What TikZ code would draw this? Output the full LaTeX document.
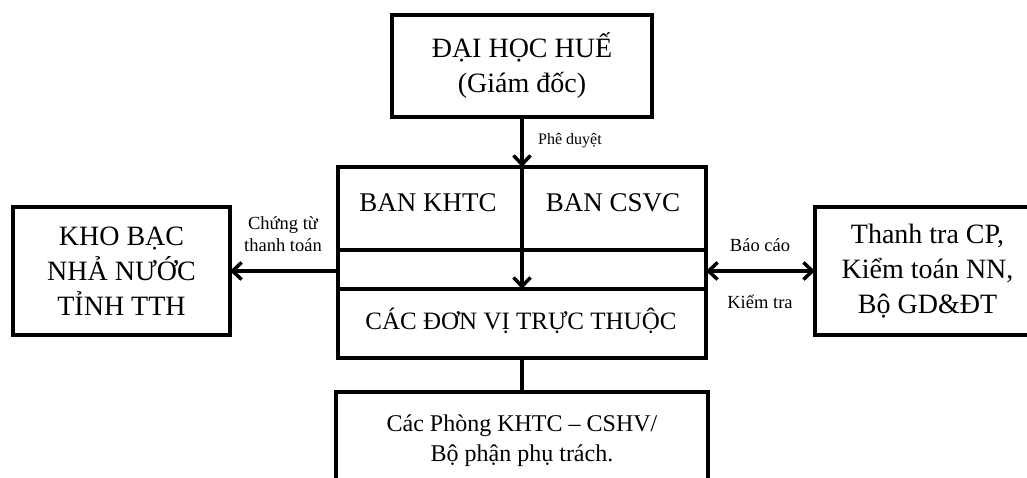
\documentclass[tikz,border=0pt]{standalone}
\usepackage{fontspec}
\setmainfont{Liberation Serif}
\usetikzlibrary{arrows.meta,calc}
\tikzset{
  box/.style={draw, line width=4pt, rectangle, inner sep=0pt, outer sep=0pt, align=center},
  plain/.style={inner sep=0pt, outer sep=0pt, align=center},
  conn/.style={line width=4pt},
  tip/.style={-{Straight Barb[length=9pt,width=17pt,line width=3.5pt]}},
  dtip/.style={{Straight Barb[length=9pt,width=17pt,line width=3.5pt]}-{Straight Barb[length=9pt,width=17pt,line width=3.5pt]}},
  big/.style={font=\fontsize{28}{35}\selectfont},
  lbl/.style={font=\fontsize{18.5}{22}\selectfont, inner sep=0pt, align=center}
}
\begin{document}
\begin{tikzpicture}[x=1pt,y=-1pt]
\clip (0,0) rectangle (1027,477);
\fill[white] (0,0) rectangle (1027,477);
% boxes
\node[box, big, minimum width=260pt, minimum height=102pt] (top) at (522,66) {ĐẠI HỌC HUẾ\\(Giám đốc)};
\node[box, minimum width=368pt, minimum height=191pt] (mid) at (522,262.5) {};
\node[box, big, minimum width=217pt, minimum height=128pt] (kho) at (121.5,271) {KHO BẠC\\NHẢ NƯỚC\\TỈNH TTH};
\node[box, big, minimum width=225pt, minimum height=128pt] (tt) at (927.5,271) {Thanh tra CP,\\Kiểm toán NN,\\Bộ GD\&ĐT};
\node[box, minimum width=372pt, minimum height=128pt] (bot) at (522,456) {};
% texts inside
\node[plain, font=\fontsize{27}{32}\selectfont] (khtc) at (428,203) {BAN KHTC};
\node[plain, font=\fontsize{27}{32}\selectfont] (csvc) at (613,203) {BAN CSVC};
\node[plain, font=\fontsize{25}{30}\selectfont] (cac) at (521,321) {CÁC ĐƠN VỊ TRỰC THUỘC};
\node[plain, font=\fontsize{24}{30}\selectfont] (phong) at (522,441) {Các Phòng KHTC – CSHV/\\Bộ phận phụ trách.};
% internal lines
\coordinate (l1) at (0,250);
\coordinate (l2) at (0,289);
\draw[conn] (mid.west |- l1) -- (mid.east |- l1);
\draw[conn] (mid.west |- l2) -- (mid.east |- l2);
\coordinate (div) at (mid.north |- l2);
% connectors
\draw[conn, tip] (top.south) -- (mid.north);
\draw[conn, tip] (mid.north) -- (div);
\draw[conn, tip] (kho.east -| mid.west) -- (kho.east);
\draw[conn, dtip] (tt.west -| mid.east) -- (tt.west);
\draw[conn] (mid.south) -- (bot.north);
% labels
\node[lbl, anchor=west, font=\fontsize{16}{19}\selectfont] (pd) at (538,141) {Phê duyệt};
\node[lbl, font=\fontsize{18.5}{22}\selectfont] (ct) at (283,234) {Chứng từ\\thanh toán};
\node[lbl] (bc) at (760,245) {Báo cáo};
\node[lbl] (kt) at (760,302) {Kiểm tra};
\end{tikzpicture}
\end{document}
